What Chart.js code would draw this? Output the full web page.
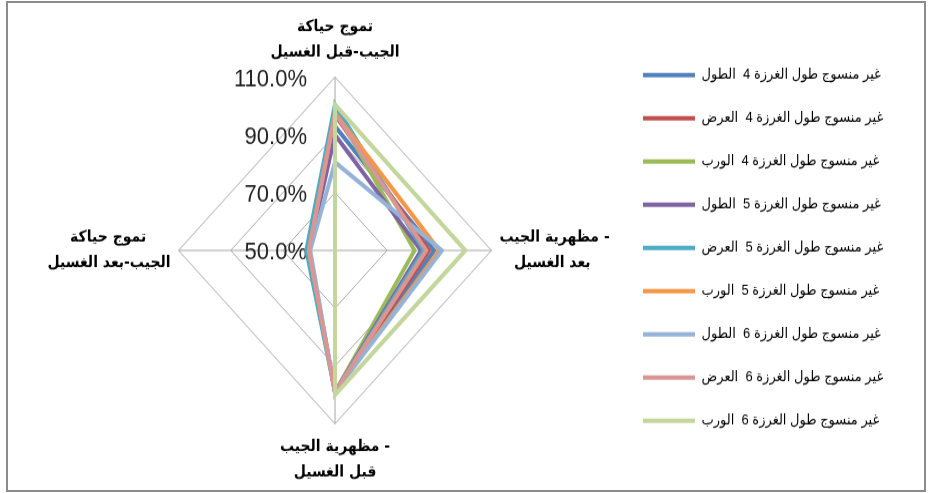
<!DOCTYPE html>
<html>
<head>
<meta charset="utf-8">
<script src="https://cdn.jsdelivr.net/npm/chart.js@4.4.0/dist/chart.umd.min.js"></script>
<style>
    html, body { margin: 0; padding: 0; background: #fff; }
    #wrap { position: absolute; left: 0; top: 0; width: 931px; height: 445px; transform: scaleY(1.108); transform-origin: 0 0; }
    #frame { position: absolute; left: 6px; top: 1px; width: 920px; height: 491px; border: 2px solid #8c8c8c; box-sizing: border-box; pointer-events: none; }
</style>
</head>
<body>
<div id="wrap"><canvas id="radarChart"></canvas></div>
<div id="frame"></div>
<script>
// axis order: top, right, bottom, left (clockwise from top)
const axisLabels = [
    ['تموج حياكة', 'الجيب-قبل الغسيل'],
    ['مظهرية الجيب -', 'بعد الغسيل'],
    ['مظهرية الجيب -', 'قبل الغسيل'],
    ['تموج حياكة', 'الجيب-بعد الغسيل']
];

const seriesNames = [
    'غير منسوج طول الغرزة 4  الطول',
    'غير منسوج طول الغرزة 4  العرض',
    'غير منسوج طول الغرزة 4  الورب',
    'غير منسوج طول الغرزة 5  الطول',
    'غير منسوج طول الغرزة 5  العرض',
    'غير منسوج طول الغرزة 5  الورب',
    'غير منسوج طول الغرزة 6  الطول',
    'غير منسوج طول الغرزة 6  العرض',
    'غير منسوج طول الغرزة 6  الورب'
];

const stitch4Length = [93, 88, 99, 60];
const stitch4Width = [97, 86, 99, 60];
const stitch4Bias = [99, 80.5, 99, 60];
const stitch5Length = [90, 83, 99, 60];
const stitch5Width = [100.5, 84, 99, 61];
const stitch5Bias = [97.5, 90, 99, 60];
const stitch6Length = [80.5, 91, 99, 59.5];
const stitch6Width = [97.5, 85, 99, 60];
const stitch6Bias = [100.5, 100, 100, 50];

const tickValues = [50, 70, 90, 110];
const tickLabels = ['50.0%', '70.0%', '90.0%', '110.0%'];

const seriesValues = [
    stitch4Length, stitch4Width, stitch4Bias,
    stitch5Length, stitch5Width, stitch5Bias,
    stitch6Length, stitch6Width, stitch6Bias
];

const seriesColors = [
    '#4F81BD', '#C0504D', '#9BBB59',
    '#8064A2', '#4BACC6', '#F79646',
    '#95B3D7', '#D99694', '#C3D69B'
];

const labelFont = 'bold 14px "DejaVu Sans", sans-serif';
const legendFont = '13px "Liberation Sans", "DejaVu Sans", sans-serif';
const RLM = '\u200F';

const measureCtx = document.createElement('canvas').getContext('2d');
function measure(font, text) {
    measureCtx.font = font;
    return measureCtx.measureText(text).width;
}

// keep a trailing dash on the visual right of the arabic words
function fixDash(line) {
    return line.endsWith(' -') ? RLM + '- ' + line.slice(0, -2) : line;
}

// pad the shorter line with spaces so both lines look centred;
// the RLM anchors the spaces inside the right-to-left run
function centerLines(lines, padLeft) {
    const widths = lines.map(l => measure(labelFont, l));
    const max = Math.max(...widths);
    const sp = measure(labelFont, ' ');
    return lines.map((l, i) => {
        const n = Math.round((max - widths[i]) / 2 / sp);
        if (!n) return l;
        const pad = ' '.repeat(n);
        return padLeft ? l + pad + RLM : RLM + pad + l;
    });
}

const pointLabels = axisLabels.map((lines, i) => {
    const fixed = lines.map(fixDash);
    if (i === 1) return centerLines(fixed, true);
    if (i === 3) return centerLines(fixed, false);
    return fixed;
});

// place the radar so its centre lands at x=335 with the legend lines starting at x=643
const legendTextW = Math.max(...seriesNames.map(n => measure(legendFont, n)));
const legendW = 26 + 52 + 6.5 + legendTextW + 10;
const plotRight = 617;
const labelW = pointLabels.map(lines => Math.max(...lines.map(l => measure(labelFont, l))));
const centerShift = Math.floor((labelW[3] - labelW[1]) / 2);
const plotWidth = 2 * (plotRight - 335 + centerShift);
const padLeft = plotRight - plotWidth;
const padRight = 931 - plotRight - legendW;

// tick labels sit left of the vertical axis, including the centre one
const tickLabelPlugin = {
    id: 'tickLabels',
    beforeDatasetsDraw(chart) {
        const scale = chart.scales.r;
        const ctx = chart.ctx;
        ctx.save();
        ctx.font = '22px "Liberation Sans", Arial, sans-serif';
        ctx.fillStyle = '#222';
        ctx.textAlign = 'right';
        ctx.textBaseline = 'middle';
        tickValues.forEach((v, i) => {
            const d = scale.getDistanceFromCenterForValue(v);
            ctx.fillText(tickLabels[i], scale.xCenter - 28, scale.yCenter - d + 2);
        });
        ctx.restore();
    }
};

const ctx = document.getElementById('radarChart').getContext('2d');
new Chart(ctx, {
    type: 'radar',
    data: {
        labels: pointLabels,
        datasets: seriesNames.map((name, i) => ({
            label: name,
            data: seriesValues[i],
            borderColor: seriesColors[i],
            backgroundColor: seriesColors[i],
            borderWidth: 4,
            borderCapStyle: 'round',
            fill: false,
            pointRadius: 0,
            pointHoverRadius: 0,
            order: seriesNames.length - i
        }))
    },
    options: {
        responsive: true,
        maintainAspectRatio: false,
        animation: false,
        layout: {
            padding: { left: padLeft, right: padRight, top: 12.5, bottom: 4.5 }
        },
        plugins: {
            legend: {
                position: 'right',
                align: 'start',
                // empty title only used as top spacing for the items
                title: { display: true, text: '', font: { size: 10, lineHeight: 1.2 }, padding: { top: 0, bottom: 10.7 } },
                labels: {
                    usePointStyle: true,
                    pointStyle: 'line',
                    pointStyleWidth: 52,
                    padding: 26,
                    color: '#000',
                    font: { family: '"Liberation Sans", "DejaVu Sans", sans-serif', size: 13 },
                    sort: (a, b) => a.datasetIndex - b.datasetIndex
                }
            },
            tooltip: { enabled: false }
        },
        scales: {
            r: {
                min: 50,
                max: 110,
                ticks: { display: false, stepSize: 20 },
                grid: { color: '#a6a6a6', lineWidth: 1 },
                angleLines: { color: '#a6a6a6', lineWidth: 1 },
                pointLabels: {
                    color: '#000',
                    font: { family: '"DejaVu Sans", sans-serif', size: 14, weight: 'bold', lineHeight: 1.68 },
                    padding: c => [10, 8, 9, 8][c.index]
                }
            }
        }
    },
    plugins: [tickLabelPlugin]
});
</script>
</body>
</html>
